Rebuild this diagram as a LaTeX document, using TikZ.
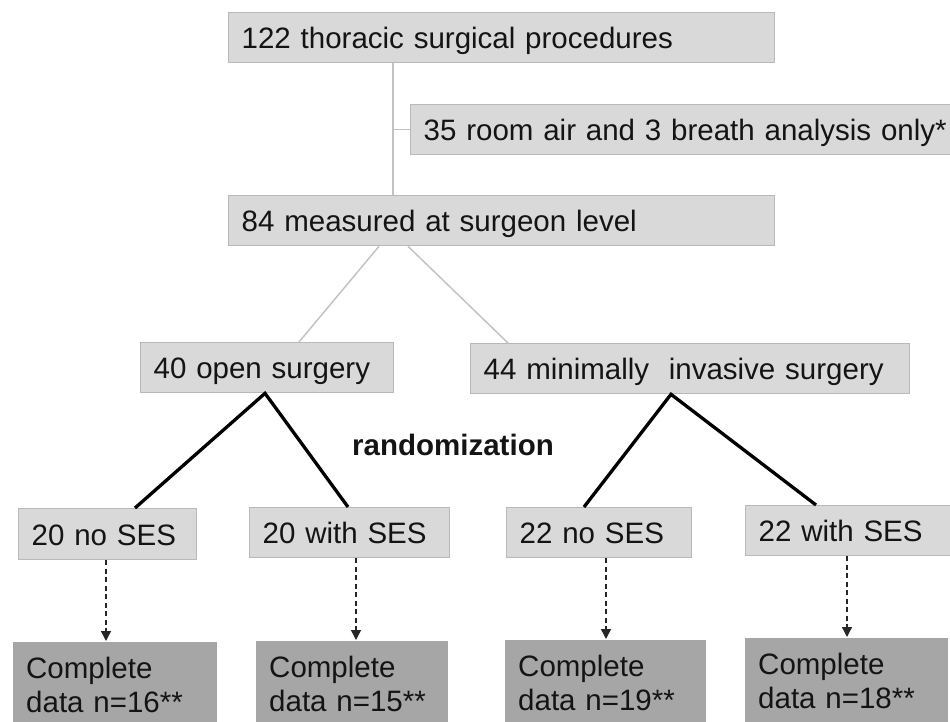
\documentclass[tikz,border=0pt]{standalone}
\usepackage{fontspec}
\setmainfont{Liberation Sans}
\usetikzlibrary{arrows.meta,calc}
\newcommand\dfont{\fontsize{29.5pt}{34.5pt}\selectfont}
\definecolor{lightfill}{RGB}{217,217,217}
\definecolor{boxline}{RGB}{185,185,185}
\definecolor{darkfill}{RGB}{166,166,166}
\definecolor{gline}{RGB}{195,195,195}
\definecolor{txt}{RGB}{20,20,20}
\tikzset{
  lbox/.style={draw=boxline, fill=lightfill, line width=1.3pt, anchor=north west,
    inner xsep=13pt, inner ysep=0pt, text height=22pt, text depth=0pt,
    minimum height=50pt, align=left, font=\dfont, text=txt},
  dbox/.style={fill=darkfill, anchor=north west, inner xsep=13pt, inner ysep=14pt,
    text height=22pt, text depth=75pt, align=left, font=\dfont, text=txt},
  glink/.style={draw=gline, line width=1.5pt},
  blink/.style={draw=black, line width=3.3pt, line join=miter},
  darr/.style={draw=black!85, line width=1.4pt, dash pattern=on 5pt off 3.5pt,
    -{Triangle[width=10pt,length=10pt]}, shorten >=1pt},
}
\begin{document}
\begin{tikzpicture}[x=1pt,y=-1pt]
\useasboundingbox (0,0) rectangle (950,722);
\clip (0,0) rectangle (950,722);
% boxes
\node[lbox, text width=520pt] (top) at (228,12) {122 thoracic surgical procedures};
\node[lbox, text width=534pt] (side) at (410,104) {35 room air and 3 breath analysis only*};
\node[lbox, text width=520pt] (meas) at (228,195) {84 measured at surgeon level};
\node[lbox, text width=227pt] (open) at (140,342) {40 open surgery};
\node[lbox, text width=413pt] (mis) at (470,343) {44 minimally\ \ invasive surgery};
\node[lbox, text width=152pt, minimum height=51pt] (n1) at (18,508) {20 no SES};
\node[lbox, text width=174pt] (w1) at (249,507) {20 with SES};
\node[lbox, text width=159pt] (n2) at (506,507) {22 no SES};
\node[lbox, text width=204pt] (w2) at (745,505) {22 with SES};
\node[dbox, text width=178pt] (d1) at (13,642) {Complete\\data n=16**};
\node[dbox, text width=166pt] (d2) at (256,641) {Complete\\data n=15**};
\node[dbox, text width=175pt] (d3) at (505,640) {Complete\\data n=19**};
\node[dbox, text width=177pt] (d4) at (745,638) {Complete\\data n=18**};
\node[anchor=base west, font=\dfont\bfseries, text=txt, inner sep=0pt] (rand) at (352,455) {randomization};
% gray connectors
\coordinate (trunk) at (393,0);
\draw[glink] (trunk |- top.south) -- (trunk |- meas.north);
\draw[glink] (trunk |- side.west) -- (side.west);
\draw[glink] ($(meas.south west)+(151,0)$) -- ($(open.north west)+(159,0)$);
\draw[glink] ($(meas.south west)+(180,0)$) -- ($(mis.north west)+(38,0)$);
% randomization branches
\draw[blink] ($(n1.north west)+(117,0)$) -- ($(open.south west)+(125,0)$) -- ($(w1.north west)+(99,0)$);
\draw[blink] ($(n2.north west)+(78,0)$) -- ($(mis.south west)+(201,0)$) -- ($(w2.north west)+(71,0)$);
% dashed arrows
\coordinate (a1) at ($(n1.south west)+(88,0)$);
\coordinate (a2) at ($(w1.south west)+(107,0)$);
\coordinate (a3) at ($(n2.south west)+(100,0)$);
\coordinate (a4) at ($(w2.south west)+(102,0)$);
\draw[darr] (a1) -- (a1 |- d1.north);
\draw[darr] (a2) -- (a2 |- d2.north);
\draw[darr] (a3) -- (a3 |- d3.north);
\draw[darr] (a4) -- (a4 |- d4.north);
\end{tikzpicture}
\end{document}
